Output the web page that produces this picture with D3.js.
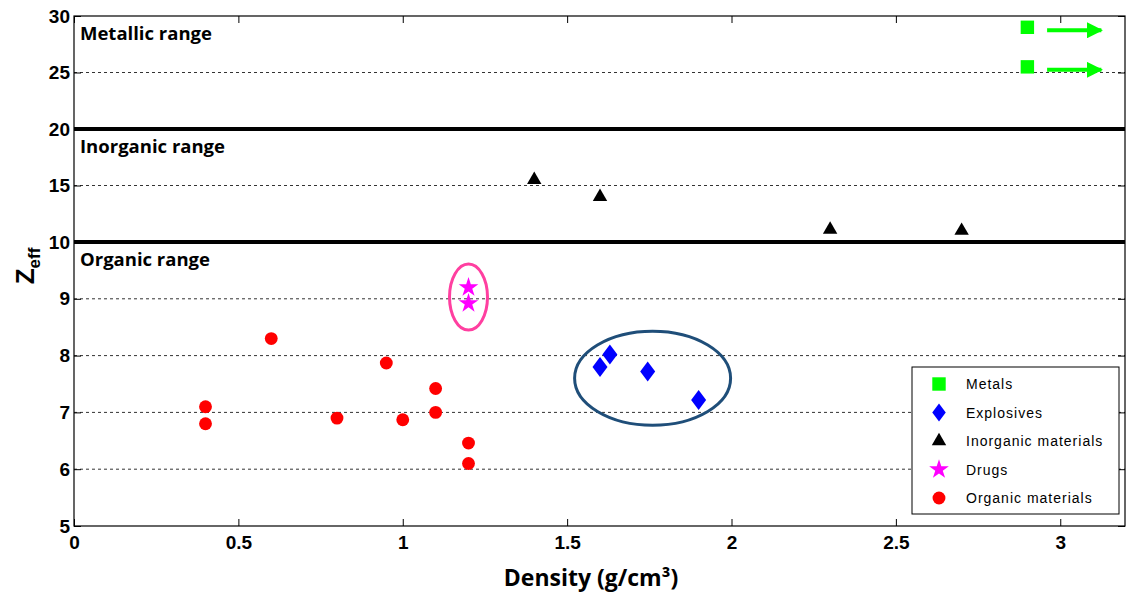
<!DOCTYPE html>
<html>
<head>
<meta charset="utf-8">
<script src="https://cdn.jsdelivr.net/npm/d3@7"></script>
<style>
  body { margin: 0; background: #fff; }
  text { font-family: "Liberation Sans", Arial, sans-serif; }
</style>
</head>
<body>
<svg id="chart" width="1126" height="595"></svg>
<script>
// data
const organic = [[0.4, 7.1], [0.4, 6.8], [0.6, 8.3], [0.8, 6.9], [0.95, 7.87], [1.0, 6.87], [1.1, 7.42], [1.1, 7.0], [1.2, 6.46], [1.2, 6.1]]
const drugs = [[1.2, 9.2], [1.2, 8.92]]
const explosives = [[1.6, 7.8], [1.63, 8.02], [1.745, 7.72], [1.9, 7.22]]
const inorganic = [[1.4, 15.5], [1.6, 14.0], [2.3, 11.1], [2.7, 11.0]]
const metals = [[2.9, 29], [2.9, 25.5]]

const xTicks = [0, 0.5, 1, 1.5, 2, 2.5, 3]
const yTicks = [5, 6, 7, 8, 9, 10, 15, 20, 25, 30]
const dashedAt = [6, 7, 8, 9, 15, 25]
const boundaries = [10, 20]
const ranges = [["Metallic range", 30], ["Inorganic range", 20], ["Organic range", 10]]
const legendNames = ["Metals", "Explosives", "Inorganic materials", "Drugs", "Organic materials"]

const plotL = 74, plotR = 1125, plotT = 16, plotB = 526

const svg = d3.select("#chart")
const x = d3.scaleLinear().domain([0, 3.2]).range([plotL, plotR + 1])
// the y axis changes step at 10
const y = d3.scaleLinear().domain([5, 10, 30]).range([plotB, 242, plotT])

// dashed grid
svg.selectAll(".grid").data(dashedAt).enter().append("line")
  .attr("x1", plotL).attr("x2", plotR)
  .attr("y1", d => y(d)).attr("y2", d => y(d))
  .attr("stroke", "#333").attr("stroke-width", 1).attr("stroke-dasharray", "3,3")

// range boundaries
svg.selectAll(".bound").data(boundaries).enter().append("line")
  .attr("x1", plotL).attr("x2", plotR)
  .attr("y1", d => y(d)).attr("y2", d => y(d))
  .attr("stroke", "black").attr("stroke-width", 4)

// box
svg.append("rect")
  .attr("x", plotL).attr("y", plotT).attr("width", plotR - plotL).attr("height", plotB - plotT)
  .attr("fill", "none").attr("stroke", "black").attr("stroke-width", 1.2)

// axes
const xAxis = svg.append("g").attr("transform", `translate(0,${plotB})`)
  .call(d3.axisBottom(x).tickValues(xTicks).tickSize(-7).tickPadding(10).tickFormat(d3.format("")))
const yAxis = svg.append("g").attr("transform", `translate(${plotL},0)`)
  .call(d3.axisLeft(y).tickValues(yTicks).tickSize(-7).tickPadding(4))
svg.append("g").attr("transform", `translate(0,${plotT})`)
  .call(d3.axisTop(x).tickValues(xTicks).tickSize(-7).tickFormat(""))
svg.append("g").attr("transform", `translate(${plotR},0)`)
  .call(d3.axisRight(y).tickValues(yTicks).tickSize(-7).tickFormat(""))
svg.selectAll(".domain").remove()
svg.selectAll(".tick line").attr("stroke", "black")
svg.selectAll(".tick text").attr("fill", "black")
  .style("font-size", "19px").style("font-weight", "bold")
  .style("font-family", "'Liberation Sans', Arial, sans-serif")

// axis titles
svg.append("text").attr("x", 591).attr("y", 586)
  .attr("text-anchor", "middle")
  .style("font-family", "'Open Sans', sans-serif").style("font-weight", "bold").style("font-size", "23px")
  .text("Density (g/cm³)")
const yl = svg.append("text").attr("transform", "translate(34,266) rotate(-90)")
  .attr("text-anchor", "middle")
  .style("font-weight", "bold").style("font-size", "26px")
yl.append("tspan").text("Z")
yl.append("tspan").attr("dy", 6).style("font-size", "17px").text("eff")

// range labels
svg.selectAll(".rng").data(ranges).enter().append("text")
  .attr("x", 80).attr("y", d => y(d[1]) + 24)
  .style("font-family", "'Open Sans', sans-serif").style("font-weight", "bold").style("font-size", "18.5px")
  .text(d => d[0])

// annotation ellipses
svg.append("ellipse").attr("cx", x(1.2)).attr("cy", y(9.03))
  .attr("rx", 19).attr("ry", 33)
  .attr("fill", "none").attr("stroke", "#ff3fa0").attr("stroke-width", 3)
svg.append("ellipse").attr("cx", x(1.76)).attr("cy", y(7.6))
  .attr("rx", 78).attr("ry", 47)
  .attr("fill", "none").attr("stroke", "#1f4e79").attr("stroke-width", 3)

// markers
const sym = {
  circle: d3.symbol().type(d3.symbolCircle).size(130),
  star: d3.symbol().type(d3.symbolStar).size(120),
  tri: d3.symbol().type(d3.symbolTriangle).size(90),
  sq: d3.symbol().type(d3.symbolSquare).size(180)
}
function diamond(s) {
  return `M0,${-s}L${s * 0.75},0L0,${s}L${-s * 0.75},0Z`
}
function plot(data, path, color) {
  svg.append("g").selectAll("path").data(data).enter().append("path")
    .attr("transform", d => `translate(${x(d[0])},${y(d[1])})`)
    .attr("d", path).attr("fill", color)
}
plot(organic, sym.circle, "#ff0000")
plot(drugs, sym.star, "#ff00ff")
plot(explosives, diamond(10), "#0000ff")
plot(inorganic, sym.tri, "black")
plot(metals, sym.sq, "#00ff00")

// arrows pointing off-scale for metals
svg.append("defs").append("marker").attr("id", "ah")
  .attr("viewBox", "0 0 10 10").attr("refX", 9).attr("refY", 5)
  .attr("markerWidth", 4).attr("markerHeight", 4).attr("orient", "auto")
  .append("path").attr("d", "M0,0L10,5L0,10Z").attr("fill", "#00ff00")
svg.selectAll(".arr").data(metals).enter().append("line")
  .attr("x1", x(2.96)).attr("x2", x(3.125))
  .attr("y1", d => y(d[1]) + 3).attr("y2", d => y(d[1]) + 3)
  .attr("stroke", "#00ff00").attr("stroke-width", 4).attr("marker-end", "url(#ah)")

// legend
const lg = svg.append("g")
lg.append("rect").attr("x", 912).attr("y", 367).attr("width", 207).attr("height", 147)
  .attr("fill", "white").attr("stroke", "black").attr("stroke-width", 1)
const legendSyms = [sym.sq, diamond(9), sym.tri, sym.star, sym.circle]
const legendColors = ["#00ff00", "#0000ff", "black", "#ff00ff", "#ff0000"]
legendNames.forEach((name, i) => {
  const ly = 384 + i * 28.5
  lg.append("path").attr("transform", `translate(939,${ly})`)
    .attr("d", legendSyms[i]).attr("fill", legendColors[i])
  lg.append("text").attr("x", 966).attr("y", ly + 5)
    .style("font-size", "14px").style("letter-spacing", "1px").text(name)
})
</script>
</body>
</html>
